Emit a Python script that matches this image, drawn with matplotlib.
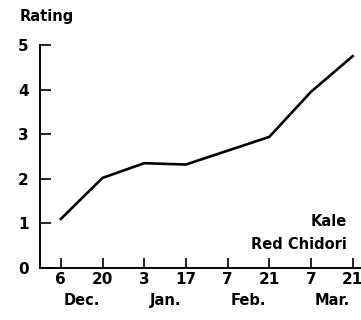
import matplotlib
matplotlib.use("Agg")
import matplotlib.pyplot as plt

# Kale 'Red Chidori' rating over the season
day_labels = ["6", "20", "3", "17", "7", "21", "7", "21"]
month_labels = ["Dec.", "Jan.", "Feb.", "Mar."]
ratings = [1.1, 2.02, 2.35, 2.32, 2.63, 2.94, 3.95, 4.75]

FONT = "DejaVu Sans"

fig = plt.figure(figsize=(3.61, 3.2), dpi=100)
ax = fig.add_axes([40 / 361, 52 / 320, 321 / 361, 223 / 320])

x = list(range(len(ratings)))
ax.plot(x, ratings, color="black", linewidth=1.9, solid_joinstyle="miter")

ax.set_xlim(-0.5, 7.2)
ax.set_ylim(0, 5)
ax.set_yticks(range(6))
ax.set_yticklabels([str(v) for v in range(6)], fontsize=11, fontweight="bold", family=FONT)
ax.set_xticks(x)
ax.set_xticklabels(day_labels, fontsize=11, fontweight="bold", family=FONT)

ax.tick_params(axis="y", direction="in", length=8, width=1.2, pad=8)
ax.tick_params(axis="x", direction="in", length=7, width=1.2, pad=3)

for side in ("top", "right"):
    ax.spines[side].set_visible(False)
for side in ("left", "bottom"):
    ax.spines[side].set_linewidth(1.4)

# month names centred under each pair of dates
for i, name in enumerate(month_labels):
    ax.text(2 * i + 0.5, -0.72, name, ha="center", va="center",
            fontsize=10.5, fontweight="bold", family=FONT,
            transform=ax.transData, clip_on=False)

fig.text(20 / 361, 1 - 16 / 320, "Rating", ha="left", va="center",
         fontsize=10.5, fontweight="bold", family=FONT)

ax.text(6.85, 1.05, "Kale", ha="right", va="center",
        fontsize=10.5, fontweight="bold", family=FONT)
ax.text(6.85, 0.53, "Red Chidori", ha="right", va="center",
        fontsize=10.5, fontweight="bold", family=FONT)

fig.savefig("out.png", dpi=100, facecolor="white")
